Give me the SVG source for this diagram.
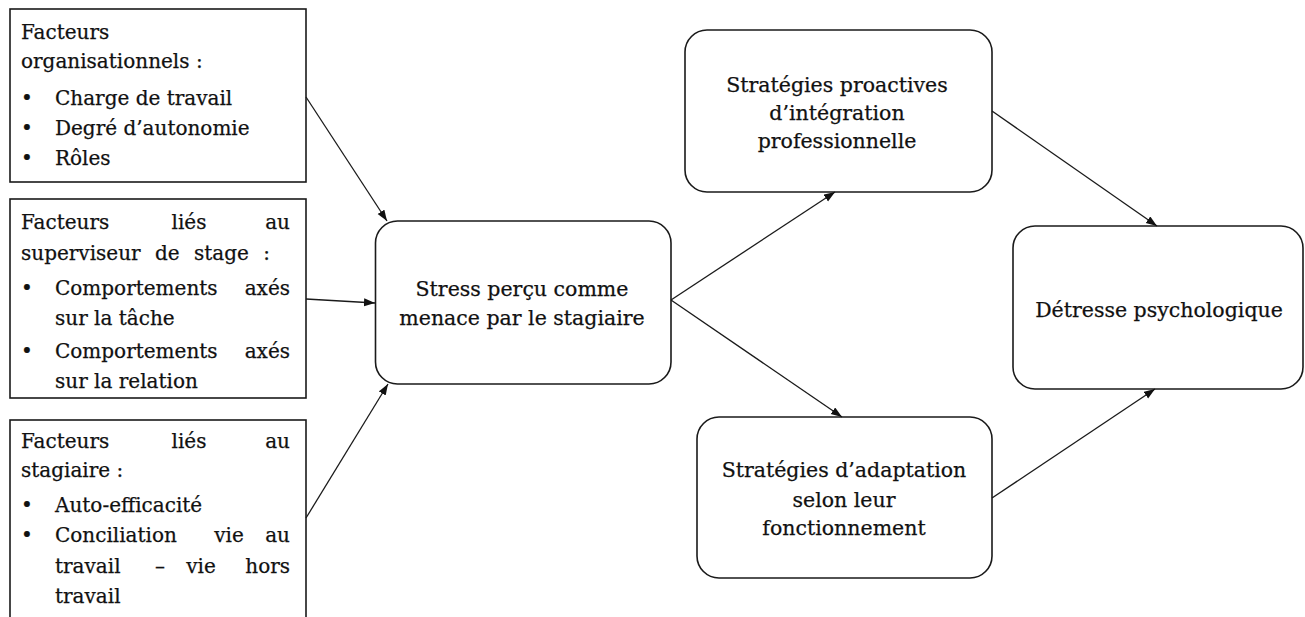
<svg xmlns="http://www.w3.org/2000/svg" width="1305" height="617" viewBox="0 0 1305 617">
<style>
  .box { fill: #ffffff; stroke: #1a1a1a; stroke-width: 1.6; }
  .t { font-family: "DejaVu Serif", "Liberation Serif", serif; font-size: 20px; fill: #111111; stroke: #111111; stroke-width: 0.25; }
  .c { font-family: "DejaVu Serif", "Liberation Serif", serif; font-size: 20.5px; fill: #111111; stroke: #111111; stroke-width: 0.25; text-anchor: middle; }
  .e { text-anchor: end; }
  .m { text-anchor: middle; }
  .conn line { stroke: #1a1a1a; stroke-width: 1.3; marker-end: url(#arr); }
</style>
<defs>
  <marker id="arr" markerUnits="userSpaceOnUse" markerWidth="12" markerHeight="9" refX="11" refY="4" orient="auto">
    <path d="M0,0 L11,4 L0,8 Z" fill="#111111"/>
  </marker>
</defs>
<rect width="1305" height="617" fill="#ffffff"/>

<g id="facteurs-organisationnels">
  <rect class="box" x="10" y="9" width="296" height="173"/>
  <text class="t" x="21" y="39">Facteurs</text>
  <text class="t" x="21" y="68">organisationnels :</text>
  <text class="t" x="21" y="105">•</text><text class="t" x="55" y="105">Charge de travail</text>
  <text class="t" x="21" y="135">•</text><text class="t" x="55" y="135">Degré d’autonomie</text>
  <text class="t" x="21" y="165">•</text><text class="t" x="55" y="165">Rôles</text>
</g>

<g id="facteurs-superviseur">
  <rect class="box" x="10" y="199" width="296" height="199"/>
  <text class="t" x="21" y="229">Facteurs</text>
  <text class="t m" x="189" y="229">liés</text>
  <text class="t e" x="290" y="229">au</text>
  <text class="t" x="21" y="260" word-spacing="8">superviseur de stage :</text>
  <text class="t" x="21" y="295">•</text><text class="t" x="55" y="295">Comportements</text><text class="t e" x="290" y="295">axés</text>
  <text class="t" x="55" y="325">sur la tâche</text>
  <text class="t" x="21" y="358">•</text><text class="t" x="55" y="358">Comportements</text><text class="t e" x="290" y="358">axés</text>
  <text class="t" x="55" y="388">sur la relation</text>
</g>

<g id="facteurs-stagiaire">
  <rect class="box" x="10" y="420" width="296" height="240"/>
  <text class="t" x="21" y="448">Facteurs</text>
  <text class="t m" x="189" y="448">liés</text>
  <text class="t e" x="290" y="448">au</text>
  <text class="t" x="21" y="477">stagiaire :</text>
  <text class="t" x="21" y="512">•</text><text class="t" x="55" y="512">Auto-efficacité</text>
  <text class="t" x="21" y="542">•</text><text class="t" x="55" y="542">Conciliation</text><text class="t m" x="229" y="542">vie</text><text class="t e" x="290" y="542">au</text>
  <text class="t" x="55" y="573">travail</text><text class="t m" x="160" y="573">–</text><text class="t m" x="201" y="573">vie</text><text class="t e" x="290" y="573">hors</text>
  <text class="t" x="55" y="603">travail</text>
</g>

<g id="stress">
  <rect class="box" x="375.5" y="221" width="295.5" height="163" rx="22" ry="22"/>
  <text class="c" x="522" y="296">Stress perçu comme</text>
  <text class="c" x="522" y="325">menace par le stagiaire</text>
</g>

<g id="strategies-proactives">
  <rect class="box" x="685" y="30" width="307" height="162" rx="22" ry="22"/>
  <text class="c" x="837" y="92">Stratégies proactives</text>
  <text class="c" x="837" y="120">d’intégration</text>
  <text class="c" x="837" y="148">professionnelle</text>
</g>

<g id="strategies-adaptation">
  <rect class="box" x="697" y="417" width="295" height="161" rx="22" ry="22"/>
  <text class="c" x="844" y="477">Stratégies d’adaptation</text>
  <text class="c" x="844" y="507">selon leur</text>
  <text class="c" x="844" y="535">fonctionnement</text>
</g>

<g id="detresse">
  <rect class="box" x="1013" y="226" width="290" height="163" rx="22" ry="22"/>
  <text class="c" x="1159" y="317">Détresse psychologique</text>
</g>

<g id="connectors" class="conn">
  <line x1="306" y1="97" x2="387" y2="221"/>
  <line x1="306" y1="299" x2="375" y2="303"/>
  <line x1="306" y1="518" x2="388" y2="384"/>
  <line x1="671" y1="300" x2="835" y2="192"/>
  <line x1="671" y1="300" x2="842" y2="417"/>
  <line x1="992" y1="111" x2="1157" y2="226"/>
  <line x1="992" y1="498" x2="1155" y2="389"/>
</g>
</svg>
